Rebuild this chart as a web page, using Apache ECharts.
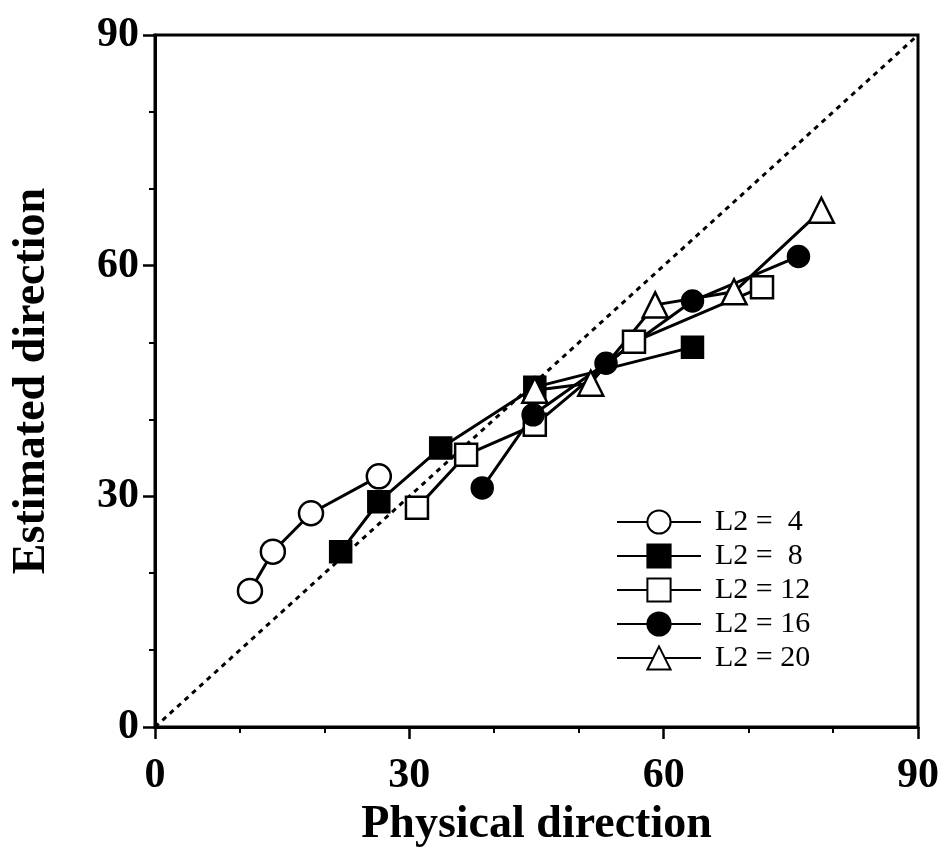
<!DOCTYPE html>
<html>
<head>
<meta charset="utf-8">
<script src="https://cdn.jsdelivr.net/npm/echarts@6/dist/echarts.min.js"></script>
<style>
  html, body { margin: 0; padding: 0; background: #fff; }
  #main { width: 942px; height: 854px; }
</style>
</head>
<body>
<div id="main"></div>
<script>
// [physical, estimated] pairs
var l2_4 = [[11.2, 17.7], [13.9, 22.8], [18.4, 27.8], [26.4, 32.6]];
var l2_8 = [[21.9, 22.8], [26.4, 29.3], [33.7, 36.3], [44.8, 44.2], [63.4, 49.4]];
var l2_12 = [[30.9, 28.5], [36.7, 35.4], [44.8, 39.3], [56.5, 50.1], [71.6, 57.2]];
var l2_16 = [[38.6, 31.1], [44.6, 40.6], [53.2, 47.3], [63.4, 55.4], [75.9, 61.2]];
var l2_20 = [[44.8, 43.8], [51.4, 44.7], [59.0, 54.9], [68.3, 56.6], [78.6, 67.2]];
var diagonal = [[0, 0], [90, 90]];
var legendNames = ['L2 =  4', 'L2 =  8', 'L2 = 12', 'L2 = 16', 'L2 = 20'];

var chart = echarts.init(document.getElementById('main'));
var font = '"Liberation Serif", "Times New Roman", serif';

function axis(name, gap, margin) {
    return {
        type: 'value',
        min: 0,
        max: 90,
        interval: 30,
        name: name,
        nameLocation: 'middle',
        nameGap: gap,
        nameTextStyle: { fontFamily: font, fontWeight: 'bold', fontSize: 46, color: '#000' },
        axisLine: { show: true, lineStyle: { color: '#000', width: 3 } },
        axisTick: { show: true, length: 12, lineStyle: { color: '#000', width: 2.5 } },
        minorTick: { show: true, splitNumber: 3, length: 6, lineStyle: { color: '#000', width: 2 } },
        axisLabel: { margin: margin, fontFamily: font, fontWeight: 'bold', fontSize: 42, color: '#000' },
        splitLine: { show: false }
    };
}

function series(name, data, symbol, filled, size) {
    return {
        name: name,
        type: 'line',
        data: data,
        symbol: symbol,
        symbolSize: size,
        showAllSymbol: true,
        lineStyle: { color: '#000', width: 3 },
        itemStyle: {
            color: filled ? '#000' : '#fff',
            borderColor: '#000',
            borderWidth: 2.5
        },
        emphasis: { disabled: true },
        z: 3
    };
}

chart.setOption({
    animation: false,
    backgroundColor: '#fff',
    grid: {
        left: 155, right: 19, top: 35, bottom: 127,
        show: true, borderColor: '#000', borderWidth: 3
    },
    xAxis: axis('Physical direction', 68, 28),
    yAxis: Object.assign(axis('Estimated direction', 100, 16), { nameRotate: 90 }),
    legend: {
        data: legendNames,
        orient: 'vertical',
        left: 611,
        top: 502,
        itemWidth: 84,
        itemHeight: 29,
        itemGap: 4,
        selectedMode: false,
        textStyle: { fontFamily: font, fontSize: 30, color: '#000', padding: [0, 0, 0, 9] }
    },
    series: [
        {
            type: 'line',
            data: diagonal,
            symbol: 'none',
            lineStyle: { color: '#000', width: 3, type: [5, 5] },
            emphasis: { disabled: true },
            z: 1
        },
        series(legendNames[0], l2_4, 'circle', false, 24),
        series(legendNames[1], l2_8, 'rect', true, 21),
        series(legendNames[2], l2_12, 'rect', false, 22),
        series(legendNames[3], l2_16, 'circle', true, 21),
        series(legendNames[4], l2_20, 'triangle', false, 25)
    ]
});
</script>
</body>
</html>
